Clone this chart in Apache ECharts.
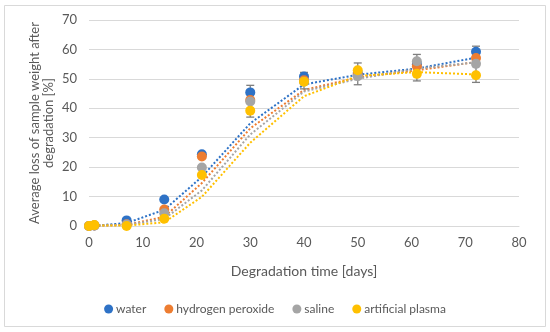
<!DOCTYPE html>
<html>
<head>
<meta charset="utf-8">
<script src="https://cdn.jsdelivr.net/npm/echarts@6/dist/echarts.min.js"></script>
<style>
html,body{margin:0;padding:0;background:#fff;}
#chart{width:550px;height:332px;}
</style>
</head>
<body>
<div id="chart"></div>
<script>
// ---- data ----
const days = [0, 1, 7, 14, 21, 30, 40, 50, 61, 72];
const water = [0, 0.2, 1.9, 9.0, 24.4, 45.4, 50.8, 52.0, 55.0, 59.2];
const hydrogenPeroxide = [0, 0.2, 0.6, 5.6, 23.6, 42.8, 49.5, 51.5, 54.3, 57.1];
const saline = [0, 0.2, 0.5, 4.3, 19.9, 42.3, 49.0, 50.9, 56.0, 55.1];
const artificialPlasma = [0, 0.3, 0, 2.5, 17.3, 39.2, 49.0, 52.9, 51.7, 51.2];

// dotted trend lines (Excel 2-period moving average)
const trendDays = [1, 7, 14, 21, 30, 40, 50, 61, 72];
const trendWater = [0.1, 1.0, 5.5, 16.7, 34.9, 48.1, 51.4, 53.5, 57.2];
const trendHydrogenPeroxide = [0.1, 0.4, 3.1, 14.6, 33.2, 46.2, 50.5, 52.9, 55.7];
const trendSaline = [0.1, 0.35, 2.4, 12.1, 31.1, 45.7, 50.0, 53.5, 55.6];
const trendArtificialPlasma = [0.15, 0.15, 1.25, 9.9, 28.3, 44.1, 51.0, 52.3, 51.5];

// error bars (envelope of standard deviations)
const errDays = [30, 40, 50, 61, 72];
const errLow = [37.0, 46.6, 48.0, 49.3, 48.8];
const errHigh = [47.8, 52.2, 55.4, 58.3, 61.1];

const seriesNames = ['water', 'hydrogen peroxide', 'saline', 'artificial plasma'];
const colors = ['#2E72C6', '#ED7D31', '#A5A5A5', '#FFC000'];
const xTicks = [0, 10, 20, 30, 40, 50, 60, 70, 80];
const yTicks = [0, 10, 20, 30, 40, 50, 60, 70];

const FONT = 'Lato, "Liberation Sans", sans-serif';
const TXT = '#595959';

const values = [water, hydrogenPeroxide, saline, artificialPlasma];
const trends = [trendWater, trendHydrogenPeroxide, trendSaline, trendArtificialPlasma];

const series = [];
// trend lines
trends.forEach((t, i) => {
  series.push({
    name: seriesNames[i] + ' trend',
    type: 'line',
    data: trendDays.map((d, k) => [d, t[k]]),
    showSymbol: false,
    symbol: 'none',
    lineStyle: { color: colors[i], width: 2, type: [2, 2] },
    silent: true,
    z: 2
  });
});
// error bars
series.push({
  name: 'err',
  type: 'custom',
  data: errDays.map((d, k) => [d, errLow[k], errHigh[k]]),
  renderItem: function (params, api) {
    const x = api.value(0);
    const lo = api.coord([x, api.value(1)]);
    const hi = api.coord([x, api.value(2)]);
    const hw = 4;
    const st = { stroke: '#7F7F7F', lineWidth: 1.3 };
    return {
      type: 'group',
      children: [
        { type: 'line', shape: { x1: lo[0], y1: lo[1], x2: hi[0], y2: hi[1] }, style: st },
        { type: 'line', shape: { x1: lo[0] - hw, y1: lo[1], x2: lo[0] + hw, y2: lo[1] }, style: st },
        { type: 'line', shape: { x1: hi[0] - hw, y1: hi[1], x2: hi[0] + hw, y2: hi[1] }, style: st }
      ]
    };
  },
  silent: true,
  z: 3
});
// markers
values.forEach((v, i) => {
  series.push({
    name: seriesNames[i],
    type: 'scatter',
    data: days.map((d, k) => [d, v[k]]),
    symbol: 'circle',
    symbolSize: 10,
    itemStyle: { color: colors[i], opacity: 1 },
    z: 4
  });
});

const chart = echarts.init(document.getElementById('chart'), null, { renderer: 'canvas' });
chart.setOption({
  animation: false,
  backgroundColor: '#ffffff',
  grid: { left: 89, right: 31, top: 20, bottom: 106, containLabel: false },
  xAxis: {
    type: 'value',
    min: xTicks[0],
    max: xTicks[xTicks.length - 1],
    interval: 10,
    axisLine: { show: true, lineStyle: { color: '#D9D9D9' } },
    axisTick: { show: false },
    splitLine: { show: false },
    axisLabel: { color: TXT, fontFamily: FONT, fontSize: 13, margin: 10 },
    name: 'Degradation time [days]',
    nameLocation: 'middle',
    nameGap: 38,
    nameTextStyle: { color: TXT, fontFamily: FONT, fontSize: 14 }
  },
  yAxis: {
    type: 'value',
    min: yTicks[0],
    max: yTicks[yTicks.length - 1],
    interval: 10,
    axisLine: { show: false },
    axisTick: { show: false },
    splitLine: { show: true, lineStyle: { color: '#D9D9D9', width: 1 } },
    axisLabel: { color: TXT, fontFamily: FONT, fontSize: 13, margin: 12 }
  },
  legend: {
    data: seriesNames.map(n => ({ name: n, icon: 'circle' })),
    top: 298,
    left: 'center',
    itemWidth: 9,
    itemHeight: 9,
    itemGap: 18,
    textStyle: { color: TXT, fontFamily: FONT, fontSize: 12, padding: [0, 0, 0, -2] }
  },
  graphic: [
    {
      type: 'rect',
      shape: { x: 4.5, y: 5.5, width: 541, height: 321 },
      style: { fill: 'none', stroke: '#D9D9D9', lineWidth: 1 },
      silent: true
    },
    {
      type: 'text',
      x: 28, y: 123,
      rotation: Math.PI / 2,
      style: {
        text: 'Average loss of sample weight after\ndegradation [%]',
        fill: TXT,
        font: '13px ' + FONT,
        align: 'center',
        verticalAlign: 'top',
        lineHeight: 14
      },
      originX: 0, originY: 0
    }
  ],
  series: series
});
</script>
</body>
</html>
